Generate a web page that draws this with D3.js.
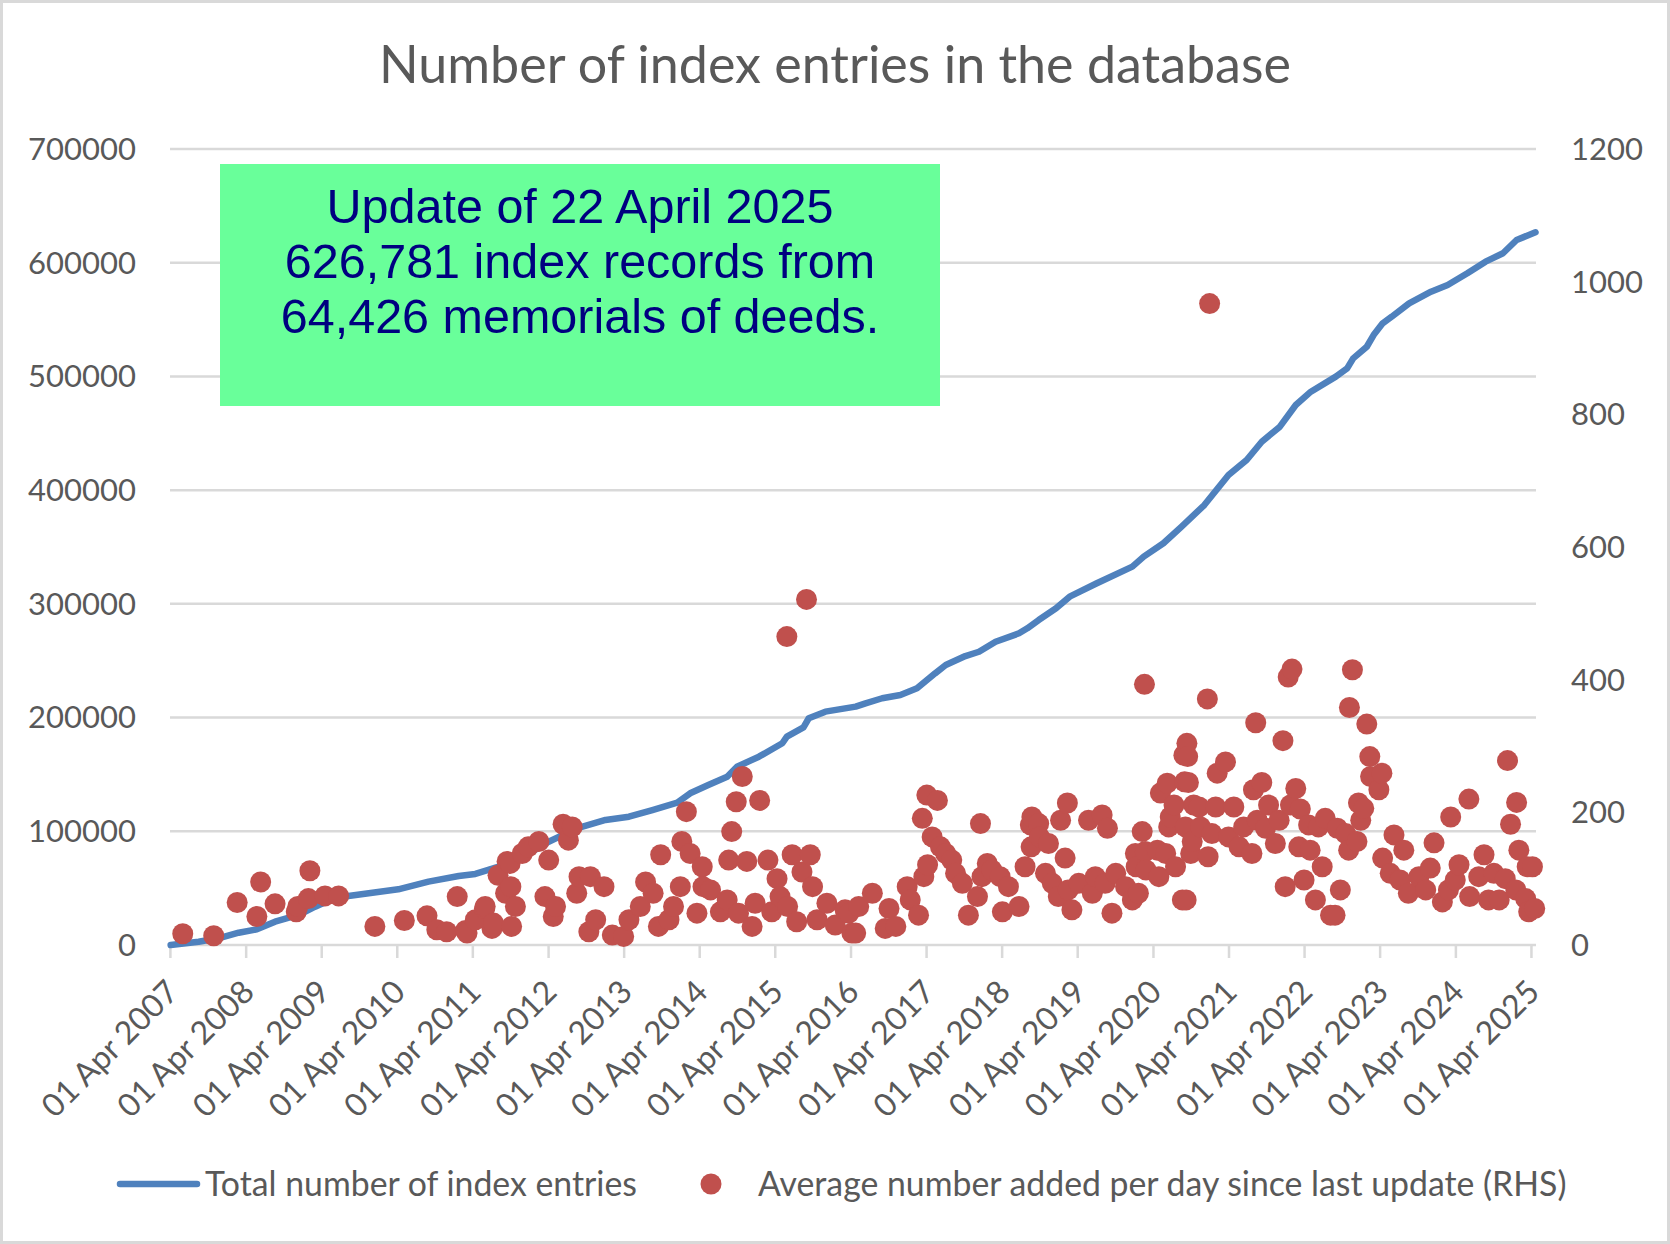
<!DOCTYPE html>
<html>
  <head>
    <meta charset="utf-8">
    <title>Number of index entries in the database</title>
    <script src="https://d3js.org/d3.v7.min.js"></script>
    <style>
body { margin: 0; background: #fff; }
svg text { font-family: Lato, "Open Sans", sans-serif; fill: #595959; }
    </style>
  </head>
  <body>
<script>
// Total number of index entries (LHS), dates as decimal years
var totalDates = [2007.25, 2007.62, 2007.88, 2008.15, 2008.39, 2008.63, 2008.94, 2009.16, 2009.38, 2009.60,
  2010.26, 2010.66, 2011.06, 2011.28, 2011.59, 2011.81, 2012.25, 2012.62, 2013.00, 2013.31,
  2013.62, 2013.95, 2014.12, 2014.36, 2014.61, 2014.74, 2015.03, 2015.34, 2015.40, 2015.62,
  2015.69, 2015.91, 2016.31, 2016.44, 2016.66, 2016.90, 2017.12, 2017.36, 2017.50, 2017.76,
  2017.94, 2018.16, 2018.47, 2018.58, 2018.73, 2018.96, 2019.14, 2019.50, 2019.97, 2020.12,
  2020.38, 2020.62, 2020.92, 2021.24, 2021.48, 2021.68, 2021.92, 2022.13, 2022.33, 2022.66,
  2022.81, 2022.89, 2023.07, 2023.16, 2023.28, 2023.40, 2023.63, 2023.92, 2024.14, 2024.40,
  2024.64, 2024.87, 2025.05, 2025.30];
var totalValues = [0, 2900, 5900, 10800, 13800, 20500, 26400, 33700, 40200, 43100,
  49000, 55700, 60700, 62500, 68900, 73300, 90800, 102600, 110000, 112800,
  118700, 125100, 133400, 140700, 148000, 156800, 165600, 177400, 183200, 191400,
  199400, 205200, 209600, 212500, 217000, 219900, 225700, 238900, 246200, 254100,
  257900, 266700, 274100, 278500, 285800, 296100, 306300, 318100, 332700, 341500,
  353300, 367900, 386900, 413300, 426500, 442600, 455800, 474900, 486600, 499800,
  507100, 515900, 526100, 536400, 546700, 552500, 564300, 574500, 580400, 590700,
  600900, 608300, 620000, 626781];

// Average number added per day since last update (RHS)
var avgDates = [2007.41, 2007.82, 2008.13, 2008.39, 2008.44, 2008.63, 2008.91, 2008.93, 2009.07, 2009.09,
  2009.29, 2009.47, 2009.95, 2010.34, 2010.64, 2010.77, 2010.90, 2011.04, 2011.15, 2011.17,
  2011.28, 2011.40, 2011.41, 2011.50, 2011.52, 2011.58, 2011.68, 2011.70,
  2011.74, 2011.75, 2011.76, 2011.81, 2011.90, 2011.98, 2012.12, 2012.20, 2012.25, 2012.31,
  2012.34, 2012.44, 2012.51, 2012.56, 2012.62, 2012.65, 2012.78, 2012.80, 2012.87, 2012.98,
  2013.09, 2013.24, 2013.31, 2013.46, 2013.53, 2013.63, 2013.70, 2013.73, 2013.84, 2013.90,
  2013.99, 2014.01, 2014.07, 2014.12, 2014.21, 2014.28, 2014.29, 2014.39, 2014.52, 2014.61,
  2014.63, 2014.67, 2014.73, 2014.76, 2014.81, 2014.87, 2014.94, 2014.98, 2015.04, 2015.15,
  2015.20, 2015.27, 2015.31, 2015.40, 2015.41, 2015.47, 2015.53, 2015.60, 2015.66, 2015.71,
  2015.74, 2015.80, 2015.93, 2016.04,
  2016.17, 2016.22, 2016.26, 2016.31, 2016.35, 2016.53, 2016.70, 2016.75, 2016.84, 2016.99,
  2017.03, 2017.14, 2017.19, 2017.21, 2017.25, 2017.26, 2017.32, 2017.39, 2017.43, 2017.50,
  2017.58, 2017.63, 2017.72, 2017.80, 2017.92, 2017.96, 2017.98, 2018.05, 2018.11, 2018.22,
  2018.25, 2018.33, 2018.47, 2018.55, 2018.62, 2018.63, 2018.64, 2018.73, 2018.74, 2018.82,
  2018.86, 2018.91, 2018.99, 2019.02, 2019.08, 2019.11, 2019.12, 2019.17, 2019.26, 2019.39,
  2019.44, 2019.48, 2019.57, 2019.61, 2019.64, 2019.70, 2019.75, 2019.88, 2019.97, 2020.01,
  2020.02, 2020.05, 2020.10, 2020.13, 2020.14, 2020.15, 2020.30, 2020.32, 2020.34, 2020.41,
  2020.43, 2020.45, 2020.47, 2020.52, 2020.54, 2020.63, 2020.65, 2020.66,
  2020.67, 2020.68, 2020.69, 2020.70, 2020.71, 2020.74, 2020.76, 2020.78, 2020.85, 2020.87,
  2020.96, 2020.97, 2020.99, 2021.02, 2021.07, 2021.09, 2021.20, 2021.24, 2021.31, 2021.38,
  2021.44, 2021.55, 2021.57, 2021.60, 2021.62, 2021.68, 2021.73, 2021.77, 2021.86, 2021.91,
  2021.96, 2021.99, 2022.03, 2022.06, 2022.08, 2022.13, 2022.17, 2022.19, 2022.24, 2022.30,
  2022.32, 2022.39, 2022.43, 2022.48, 2022.52, 2022.59, 2022.65, 2022.68, 2022.72, 2022.79,
  2022.83, 2022.84, 2022.88, 2022.94, 2022.96, 2022.99, 2023.03, 2023.07, 2023.11, 2023.12,
  2023.23, 2023.27, 2023.28, 2023.38, 2023.43, 2023.51, 2023.56, 2023.62, 2023.76, 2023.85,
  2023.91, 2023.96, 2024.07, 2024.15, 2024.18, 2024.24, 2024.29, 2024.42, 2024.43, 2024.55,
  2024.62, 2024.68, 2024.75, 2024.82, 2024.90, 2024.93, 2024.97, 2025.04, 2025.05, 2025.08,
  2025.17, 2025.19, 2025.21, 2025.26, 2025.29];
var avgValues = [17, 14, 64, 43, 95, 62, 50, 58, 70, 112,
  74, 74, 28, 37, 44, 23, 20, 73, 22, 18,
  38, 55, 58, 25, 33, 105, 78, 126,
  123, 88, 28, 58, 138, 148, 156, 73, 128, 43,
  58, 182, 158, 178, 78, 103, 20, 103, 38, 88,
  15, 13, 38, 58, 95, 78, 28, 136, 38, 58,
  88, 156, 201, 138, 48, 118, 88, 83, 50, 68,
  128, 171, 216, 48, 254, 126, 28, 63, 218, 128,
  50, 100, 73, 465, 58, 136, 35, 110, 521, 136,
  88, 38, 63, 30,
  53, 48, 18, 18, 58, 78, 25, 55, 28, 88,
  68, 45, 191, 103, 226, 121, 163, 218, 148, 138,
  128, 108, 93, 45, 73, 183, 103, 123, 113, 103,
  50, 88, 58, 118, 181, 148, 193, 183, 163, 108,
  153, 93, 73, 188, 131, 214, 83, 53, 93, 188,
  78, 103, 196, 93, 176, 48, 108, 88, 68, 138,
  118, 78, 171, 393, 141, 113, 143, 103, 229, 138,
  244, 178, 193, 211, 118, 68, 286, 246,
  178, 68, 304, 284, 245, 138, 156, 211, 208, 178,
  371, 133, 967, 168, 208, 259, 276, 163, 208, 148,
  178, 138, 234, 335, 188, 245, 176, 211, 153, 188,
  308, 88, 404, 211, 416, 236, 148, 205, 98, 181,
  143, 68, 178, 118, 191, 45, 45, 176, 83, 168,
  143, 358, 415, 156, 214, 188, 206, 333, 284, 254,
  234, 259, 131, 108, 166, 98, 143, 78, 103, 83,
  116, 154, 65, 83, 193, 98, 121, 220, 73, 103,
  136, 68, 108, 68, 100, 278, 182, 83, 215, 143,
  70, 118, 50, 118, 55];

var leftTicks = [0, 100000, 200000, 300000, 400000, 500000, 600000, 700000];
var rightTicks = [0, 200, 400, 600, 800, 1000, 1200];
var tickYears = d3.range(2007, 2026);

var titleText = "Number of index entries in the database";
var noteLines = ["Update of 22 April 2025", "626,781 index records from", "64,426 memorials of deeds."];
var legendLabels = ["Total number of index entries", "Average number added per day since last update (RHS)"];

var width = 1670,
    height = 1244,
    blue = "#4f81bd",
    red = "#c0504d",
    grid = "#d9d9d9";

function toDate(y) {
  var yr = Math.floor(y),
      start = new Date(yr, 0, 1),
      end = new Date(yr + 1, 0, 1);
  return new Date(+start + (y - yr) * (end - start));
}

var svg = d3.select("body").append("svg")
  .attr("width", width)
  .attr("height", height);

svg.append("rect")
  .attr("x", 1.5).attr("y", 1.5)
  .attr("width", width - 3).attr("height", height - 3)
  .attr("fill", "#fff")
  .attr("stroke", grid)
  .attr("stroke-width", 3);

var x = d3.scaleTime()
  .domain([new Date(2007, 3, 1), new Date(2025, 3, 23)])
  .range([170.4, 1536]);
var yLeft = d3.scaleLinear().domain([0, 700000]).range([945, 149]);
var yRight = d3.scaleLinear().domain([0, 1200]).range([945, 149]);

// title
svg.append("text")
  .attr("x", 835).attr("y", 83)
  .attr("text-anchor", "middle")
  .style("font-size", "52px")
  .text(titleText);

// gridlines
svg.append("g").selectAll("line").data(leftTicks).enter().append("line")
  .attr("x1", 170).attr("x2", 1536)
  .attr("y1", function(d) { return yLeft(d); })
  .attr("y2", function(d) { return yLeft(d); })
  .attr("stroke", grid)
  .attr("stroke-width", 2.5);

// left axis labels
svg.append("g").selectAll("text").data(leftTicks).enter().append("text")
  .attr("x", 136)
  .attr("y", function(d) { return yLeft(d); })
  .attr("dy", "0.35em")
  .attr("text-anchor", "end")
  .style("font-size", "31px")
  .text(function(d) { return d; });

// right axis labels
svg.append("g").selectAll("text").data(rightTicks).enter().append("text")
  .attr("x", 1571)
  .attr("y", function(d) { return yRight(d); })
  .attr("dy", "0.35em")
  .style("font-size", "31px")
  .text(function(d) { return d; });

// x ticks
var tickDates = tickYears.map(function(y) { return new Date(y, 3, 1); });
var fmt = d3.timeFormat("%d %b %Y");
var xt = svg.append("g");
xt.selectAll("line").data(tickDates).enter().append("line")
  .attr("x1", function(d) { return x(d); })
  .attr("x2", function(d) { return x(d); })
  .attr("y1", 945).attr("y2", 958)
  .attr("stroke", grid)
  .attr("stroke-width", 2.5);
xt.selectAll("text").data(tickDates).enter().append("text")
  .attr("transform", function(d) { return "translate(" + (x(d) + 2) + ",986) rotate(-45)"; })
  .attr("text-anchor", "end")
  .attr("dy", "0.35em")
  .style("font-size", "32px")
  .text(function(d) { return fmt(d); });

// note box
svg.append("rect")
  .attr("x", 220).attr("y", 164)
  .attr("width", 720).attr("height", 242)
  .attr("fill", "#69ff9a");
svg.append("g").selectAll("text").data(noteLines).enter().append("text")
  .attr("x", 580)
  .attr("y", function(d, i) { return 223 + i * 55; })
  .attr("text-anchor", "middle")
  .style("font-family", "'Liberation Sans', Arial, sans-serif")
  .style("font-size", "48.5px")
  .style("fill", "#000080")
  .text(function(d) { return d; });

// total line
var line = d3.line()
  .x(function(d) { return x(toDate(d[0])); })
  .y(function(d) { return yLeft(d[1]); });
svg.append("path")
  .datum(d3.zip(totalDates, totalValues))
  .attr("d", line)
  .attr("fill", "none")
  .attr("stroke", blue)
  .attr("stroke-width", 6.5)
  .attr("stroke-linejoin", "round")
  .attr("stroke-linecap", "round");

// per-day dots
svg.append("g").selectAll("circle").data(d3.zip(avgDates, avgValues)).enter().append("circle")
  .attr("cx", function(d) { return x(toDate(d[0])); })
  .attr("cy", function(d) { return yRight(d[1]); })
  .attr("r", 10.5)
  .attr("fill", red);

// legend
var lg = svg.append("g");
lg.append("line")
  .attr("x1", 120).attr("x2", 197)
  .attr("y1", 1184).attr("y2", 1184)
  .attr("stroke", blue)
  .attr("stroke-width", 6.5)
  .attr("stroke-linecap", "round");
lg.append("text")
  .attr("x", 205).attr("y", 1184).attr("dy", "0.35em")
  .style("font-size", "33.8px")
  .text(legendLabels[0]);
lg.append("circle")
  .attr("cx", 711).attr("cy", 1184).attr("r", 10.5)
  .attr("fill", red);
lg.append("text")
  .attr("x", 758).attr("y", 1184).attr("dy", "0.35em")
  .style("font-size", "33.8px")
  .text(legendLabels[1]);
</script>
  </body>
</html>
